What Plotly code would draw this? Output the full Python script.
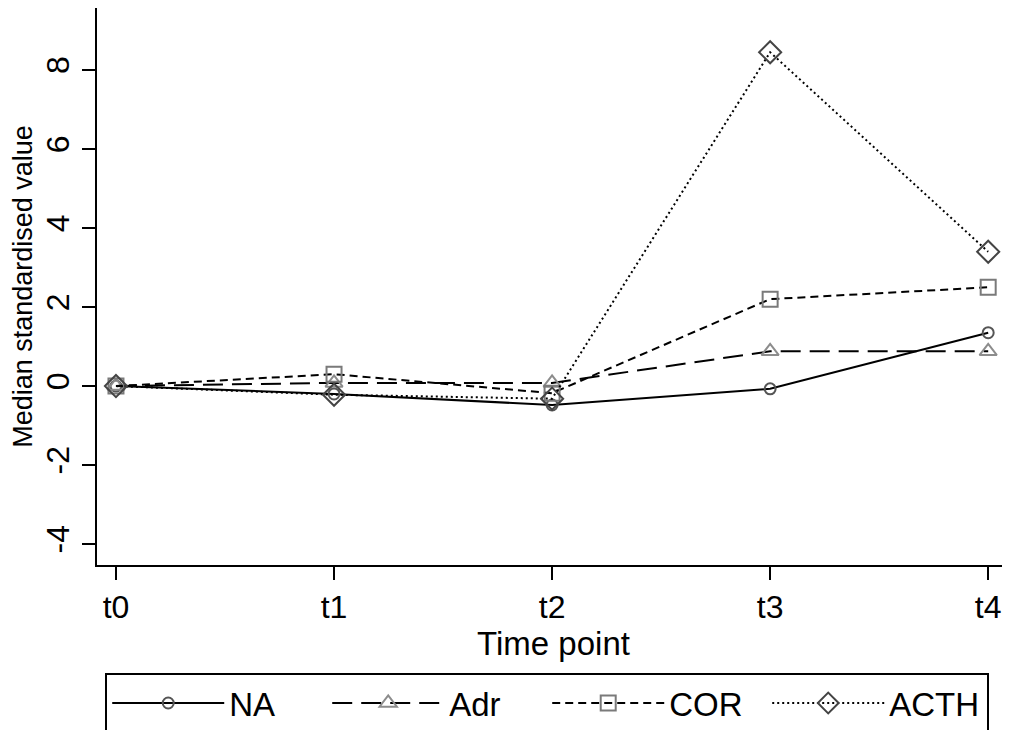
import plotly.graph_objects as go

time_points = ["t0", "t1", "t2", "t3", "t4"]
na_vals = [0.0, -0.2, -0.48, -0.07, 1.35]
adr_vals = [0.0, 0.08, 0.08, 0.88, 0.88]
cor_vals = [0.0, 0.3, -0.18, 2.2, 2.5]
acth_vals = [0.0, -0.22, -0.32, 8.45, 3.4]
y_ticks = [-4, -2, 0, 2, 4, 6, 8]
y_tick_text = ["-4", "-2", "0", "2", "4", "6", "8"]

x_idx = list(range(len(time_points)))

series = [
    ("NA", na_vals, "solid", "circle-open", "#555555", 11),
    ("Adr", adr_vals, "20px,9px", "triangle-up-open", "#8c8c8c", 15),
    ("COR", cor_vals, "8px,5px", "square-open", "#7a7a7a", 15),
    ("ACTH", acth_vals, "2px,3px", "diamond-open", "#444444", 17),
]

fig = go.Figure()
for name, vals, dash, sym, mcol, msize in series:
    fig.add_trace(go.Scatter(
        x=x_idx, y=vals, name=name, mode="lines+markers",
        line=dict(color="black", width=2, dash=dash),
        marker=dict(symbol=sym, size=msize, color=mcol,
                    line=dict(color=mcol, width=2)),
    ))

font_family = "Liberation Sans, Arial, sans-serif"
fig.update_layout(
    width=1002, height=722,
    paper_bgcolor="white", plot_bgcolor="white",
    margin=dict(l=89, r=0, t=0, b=165, autoexpand=False),
    font=dict(family=font_family, size=33, color="black"),
    showlegend=True,
    legend=dict(
        orientation="h", x=0.009, xanchor="left", y=-0.194, yanchor="top",
        bordercolor="black", borderwidth=2, bgcolor="white",
        font=dict(size=33), itemwidth=112, entrywidth=93,
        tracegroupgap=0,
    ),
    xaxis=dict(
        range=[-0.087, 4.1], tickmode="array", tickvals=x_idx, ticktext=time_points,
        showline=True, linecolor="black", linewidth=2, showgrid=False,
        zeroline=False, ticks="outside", ticklen=13, tickwidth=2, tickcolor="black",
        title=dict(text="Time point", standoff=0, font=dict(size=33)),
        tickfont=dict(size=32), automargin=False,
    ),
    yaxis=dict(
        range=[-4.53, 9.57], tickmode="array", tickvals=y_ticks, ticktext=y_tick_text,
        showline=True, linecolor="black", linewidth=2, showgrid=False,
        zeroline=False, ticks="outside", ticklen=13, tickwidth=2, tickcolor="black",
        tickangle=-90, tickfont=dict(size=32), automargin=False,
        title=dict(text="Median standardised value", standoff=4, font=dict(size=27)),
    ),
)

fig.write_html("out.html")
